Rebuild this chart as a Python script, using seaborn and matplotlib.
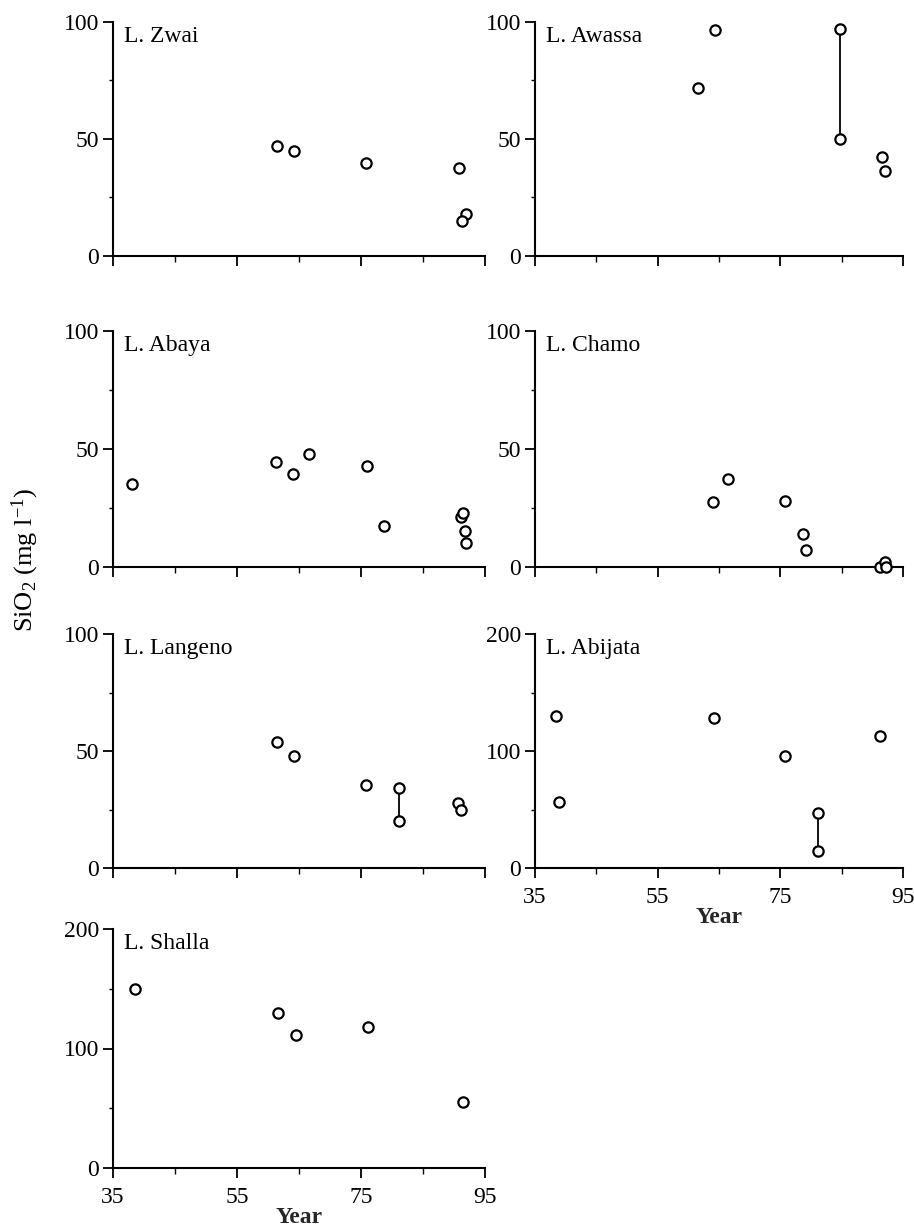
import numpy as np
import pandas as pd
import matplotlib.pyplot as plt
import seaborn as sns
from matplotlib.ticker import FixedLocator, MultipleLocator

# ── Data (year = 19xx, SiO2 in mg l-1) ─────────────────────────────────────────
zwai_year = [61.4, 64.2, 75.8, 90.8, 91.9, 91.3]
zwai_sio2 = [46.9, 44.8, 39.6, 37.8, 18.0, 15.0]

awassa_year = [61.5, 64.3, 84.8, 84.8, 91.5, 92.0]
awassa_sio2 = [72.0, 96.5, 97.0, 50.0, 42.5, 36.5]
awassa_range = [84.8, 50.0, 97.0]          # year, low, high

abaya_year = [38.1, 61.3, 64.0, 66.6, 76.0, 78.7, 91.1, 91.5, 91.8, 91.9]
abaya_sio2 = [35.3, 44.7, 39.6, 47.7, 43.0, 17.4, 21.3, 23.0, 15.3, 10.2]

chamo_year = [64.1, 66.5, 75.8, 78.7, 79.2, 91.3, 92.0, 92.3]
chamo_sio2 = [27.7, 37.4, 28.0, 13.9, 7.1, 0.0, 2.0, 0.0]

langeno_year = [61.4, 64.2, 75.8, 81.1, 81.1, 90.7, 91.1]
langeno_sio2 = [53.8, 47.9, 35.5, 34.2, 20.1, 27.8, 24.8]
langeno_range = [81.1, 20.1, 34.2]

abijata_year = [38.4, 38.9, 64.2, 75.8, 81.2, 81.2, 91.2]
abijata_sio2 = [130.0, 56.0, 128.5, 96.0, 47.0, 14.5, 113.0]
abijata_range = [81.2, 14.5, 47.0]

shalla_year = [38.5, 61.6, 64.5, 76.1, 91.4]
shalla_sio2 = [150.0, 130.0, 111.0, 118.0, 55.0]

year_ticks = [35, 55, 75, 95]
year_minor = [45, 65, 85]

# ── Style ─────────────────────────────────────────────────────────────────────
sns.set_theme(style="ticks")
plt.rcParams.update({
    "font.family": ["Liberation Serif", "DejaVu Serif"],
    "mathtext.fontset": "custom",
    "mathtext.rm": "Liberation Serif",
    "mathtext.it": "Liberation Serif:italic",
    "text.color": "black",
    "axes.edgecolor": "black",
    "xtick.color": "black",
    "ytick.color": "black",
})

W, H = 914, 1231
fig = plt.figure(figsize=(W / 100, H / 100), dpi=100, facecolor="white")

cols = {0: (113, 485), 1: (535, 903)}
rows = {0: (22, 256), 1: (331, 567), 2: (634, 868), 3: (929, 1168)}

panels = [
    ("L. Zwai",    zwai_year,    zwai_sio2,    100, None,          0, 0, False),
    ("L. Awassa",  awassa_year,  awassa_sio2,  100, awassa_range,  0, 1, False),
    ("L. Abaya",   abaya_year,   abaya_sio2,   100, None,          1, 0, False),
    ("L. Chamo",   chamo_year,   chamo_sio2,   100, None,          1, 1, False),
    ("L. Langeno", langeno_year, langeno_sio2, 100, langeno_range, 2, 0, False),
    ("L. Abijata", abijata_year, abijata_sio2, 200, abijata_range, 2, 1, True),
    ("L. Shalla",  shalla_year,  shalla_sio2,  200, None,          3, 0, True),
]

for name, yrs, vals, ymax, rng, r, c, show_x in panels:
    x0, x1 = cols[c]
    y0, y1 = rows[r]
    ax = fig.add_axes([x0 / W, 1 - y1 / H, (x1 - x0) / W, (y1 - y0) / H])
    df = pd.DataFrame({"year": yrs, "sio2": vals})

    if rng is not None:
        ax.vlines(rng[0], rng[1], rng[2], color="black", lw=1.3, zorder=2)

    sns.scatterplot(data=df, x="year", y="sio2", ax=ax, marker="o", s=55,
                    facecolor="white", edgecolor="black", linewidth=1.6,
                    zorder=3, clip_on=False, legend=False)

    ax.set_xlim(35, 95)
    ax.set_ylim(0, ymax)
    ax.xaxis.set_major_locator(FixedLocator(year_ticks))
    ax.xaxis.set_minor_locator(FixedLocator(year_minor))
    ax.yaxis.set_major_locator(MultipleLocator(ymax / 2))
    ax.yaxis.set_minor_locator(MultipleLocator(ymax / 4))
    sns.despine(ax=ax)
    for s in ("left", "bottom"):
        ax.spines[s].set_linewidth(1.5)

    ax.tick_params(axis="both", which="major", direction="out", length=7,
                   width=1.3, labelsize=17, pad=3)
    ax.tick_params(axis="x", which="major", pad=7)
    ax.tick_params(axis="x", which="minor", direction="out", length=4, width=1.0)
    ax.tick_params(axis="y", which="minor", direction="out", length=3, width=1.0)
    if not show_x:
        ax.tick_params(axis="x", which="both", labelbottom=False)
        ax.set_xlabel("")
    else:
        ax.set_xlabel("Year", fontsize=17, fontweight="bold", labelpad=-1)
    ax.set_ylabel("")
    ax.set_facecolor("white")

    ax.text(0.03, 0.985, name, transform=ax.transAxes, ha="left", va="top",
            fontsize=17)

fig.text(25 / W, 1 - 560 / H, r"SiO$_2$ (mg l$^{-1}$)", rotation=90,
         ha="center", va="center", fontsize=19)

fig.savefig("out.png", dpi=100, facecolor="white")
